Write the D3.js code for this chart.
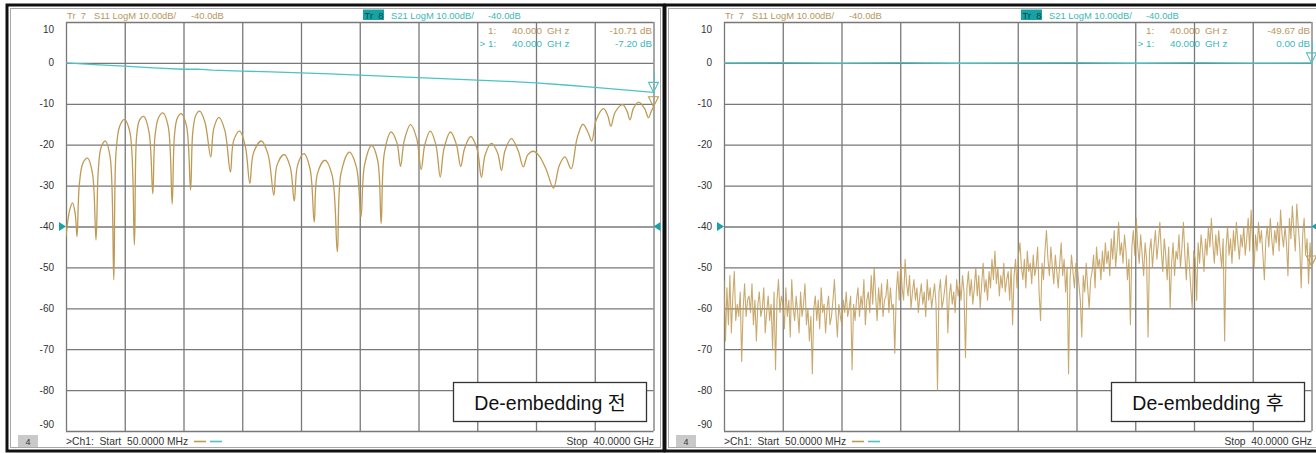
<!DOCTYPE html>
<html>
<head>
<meta charset="utf-8">
<script src="https://cdn.jsdelivr.net/npm/d3@7"></script>
<style>
  body { margin: 0; background: #fff; }
  svg { display: block; font-family: "Liberation Sans", Arial, sans-serif; }
  text { white-space: pre; }
</style>
</head>
<body>
<svg id="chart" width="1316" height="453"></svg>
<script>
var sweepStart = 0.05;   // GHz
var sweepStop = 40;      // GHz
var yTicks = [10, 0, -10, -20, -30, -40, -50, -60, -70, -80, -90];
var refLevel = -40;

// S11 before de-embedding (GHz, dB)
var s11BeforeF = [0.05,0.3,0.5,0.68,0.8,0.95,1.2,1.52,1.85,2.09,2.25,2.45,2.73,3.05,3.3,3.45,3.7,4.02,4.4,4.7,
  4.85,5.05,5.34,5.7,5.95,6.1,6.35,6.64,7.0,7.27,7.42,7.62,7.89,8.25,8.52,8.67,8.88,9.14,9.5,9.89,
  10.1,10.45,10.85,11.23,11.45,11.86,12.25,12.55,12.8,13.34,13.8,14.18,14.4,14.89,15.3,15.57,15.8,16.23,16.65,16.93,
  17.15,17.66,18.15,18.5,18.75,19.32,19.8,20.11,20.35,20.84,21.25,21.48,21.7,22.16,22.55,22.8,23.05,23.48,23.9,24.2,
  24.45,24.82,25.2,25.5,25.75,26.2,26.6,26.89,27.15,27.57,28.0,28.3,28.55,28.98,29.4,29.66,29.9,30.34,30.8,31.14,
  31.45,31.82,32.2,32.7,33.2,33.6,33.98,34.4,34.8,35.2,35.55,35.8,36.1,36.6,36.9,37.1,37.4,37.9,38.2,38.4,
  38.65,39.0,39.4,39.66,39.85,40.0];
var s11BeforeDb = [-42.5,-36,-34.2,-37,-42.5,-30,-24.5,-23.3,-27,-43.3,-26,-20.5,-19.1,-23,-53,-22,-15.5,-13.8,-17,-44.5,
  -18,-14,-13.1,-17,-32,-18,-13.3,-12.2,-15.5,-34.5,-18,-13.5,-12.4,-15.5,-31.1,-17,-12.8,-11.8,-14.5,-23,
  -16,-13.3,-16.5,-26.7,-19,-16.7,-20.5,-29.5,-22,-19.1,-22.5,-32.4,-25,-22.4,-25.5,-33.8,-25,-22.2,-26,-38.9,
  -27,-23.8,-27.5,-46.2,-27,-21.8,-25.5,-37.6,-25,-20.2,-24,-39.3,-22,-16.9,-19.5,-25.3,-19,-15.1,-18.5,-26.1,
  -20,-16.7,-20,-27.9,-21,-16.9,-20,-25.3,-21,-18.0,-21,-28.0,-22.5,-19.7,-22,-26.3,-21.5,-18.5,-21.5,-25.4,
  -22.5,-21.6,-22.6,-26,-30.6,-25,-23,-25.9,-18.5,-15.0,-17,-19.1,-14,-11.2,-13,-15.5,-12,-10.2,-11.8,-13.9,
  -11,-9.6,-11.2,-13.4,-11.8,-10.71];

// S21 before de-embedding
var s21BeforeF = [0.05,2,4,6,8,9,10,12,14,16,18,20,22,24,26,28,30,32,34,36,38,40];
var s21BeforeDb = [0,-0.4,-0.8,-1.2,-1.55,-1.5,-1.75,-2.0,-2.2,-2.45,-2.7,-3.0,-3.3,-3.6,-3.9,-4.2,-4.5,-4.9,-5.4,-6.0,-6.6,-7.2];

// S21 after de-embedding
var s21AfterF = [0.05,4,8,12,16,20,24,28,32,36,40];
var s21AfterDb = [0,0.05,-0.05,0.08,-0.08,0,0.05,-0.08,0.08,-0.05,0];

// S11 after de-embedding, one value per sweep point (0.1 GHz apart)
var s11AfterDb = [
  -53,-68,-55,-64,-52,-66,-57,-51,-63,-59, -62,-56,-73,-60,-54,-62,-58,-57,-61,-54,
  -64,-58,-68,-59,-56,-62,-60,-55,-66,-61, -57,-63,-59,-70,-56,-75,-58,-53,-61,-57,
  -59,-65,-55,-62,-58,-67,-53,-60,-63,-57, -61,-66,-56,-62,-59,-54,-64,-60,-68,-62,
  -76,-60,-57,-63,-58,-65,-55,-61,-59,-66, -60,-57,-64,-62,-58,-53,-61,-67,-59,-62,
  -64,-58,-61,-56,-62,-60,-57,-75,-59,-63, -58,-55,-62,-57,-60,-53,-64,-58,-56,-61,
  -52,-59,-50,-57,-63,-55,-60,-54,-62,-58, -57,-53,-61,-55,-60,-59,-71,-56,-51,-58,
  -49,-55,-58,-48,-54,-57,-52,-60,-56,-53, -58,-55,-61,-57,-54,-59,-56,-62,-53,-58,
  -55,-60,-57,-54,-59,-80,-56,-53,-60,-58, -55,-52,-66,-57,-54,-59,-56,-61,-53,-57,
  -54,-58,-52,-56,-72,-55,-51,-57,-53,-59, -55,-50,-57,-52,-60,-54,-49,-56,-53,-58,
  -51,-55,-48,-53,-46,-54,-50,-57,-52,-55, -49,-56,-53,-51,-58,-50,-64,-52,-48,-55,
  -47,-44,-50,-53,-48,-55,-46,-51,-49,-54, -47,-52,-50,-45,-56,-63,-49,-53,-46,-41,
  -48,-52,-45,-50,-54,-47,-51,-55,-49,-44, -52,-48,-56,-50,-76,-53,-47,-51,-55,-49,
  -50,-54,-58,-67,-52,-56,-49,-55,-60,-53, -51,-47,-55,-45,-50,-48,-53,-46,-51,-44,
  -49,-46,-52,-43,-48,-41,-50,-45,-39,-47, -44,-49,-42,-46,-53,-48,-64,-45,-41,-47,
  -38,-45,-49,-42,-47,-52,-44,-48,-67,-46, -43,-50,-45,-41,-48,-44,-39,-46,-51,-43,
  -47,-53,-45,-60,-49,-44,-52,-46,-48,-42, -50,-45,-39,-47,-53,-44,-49,-55,-60,-46,
  -48,-58,-44,-49,-42,-46,-51,-43,-47,-40, -45,-38,-44,-49,-42,-47,-41,-46,-50,-43,
  -68,-45,-40,-47,-43,-49,-41,-46,-39,-44, -48,-42,-45,-40,-47,-43,-38,-46,-36,-44,
  -50,-42,-46,-39,-44,-41,-47,-53,-43,-40, -45,-38,-43,-47,-41,-44,-39,-46,-36,-42,
  -45,-40,-44,-52,-38,-43,-35,-41,-46,-34.5, -40,-45,-55,-42,-38,-47,-43,-54,-44,-49.67
];
var s11AfterF = s11AfterDb.map(function (d, i) {
  return sweepStart + i * (sweepStop - sweepStart) / (s11AfterDb.length - 1);
});

var markerFreq = 40;
var readBefore = ["-10.71 dB", "-7.20 dB"];
var readAfter = ["-49.67 dB", "0.00 dB"];
var labelBefore = "De-embedding 전";
var labelAfter = "De-embedding 후";
//////////////////////////////////////////////////////////////////////////////

var tan = "#bf9a55";
var tanText = "#b8975a";
var cyan = "#4cc4c6";
var cyanText = "#3bb8ba";
var teal = "#17a3a5";
var gridColor = "#787878";

var svg = d3.select("#chart");

var drawPanel = function (p, idx) {
  var ox = p.ox;
  var plotLeft = 66 + ox, plotRight = 653.5 + ox;
  var plotTop = 22, plotBottom = 431;

  var x = d3.scaleLinear().domain([sweepStart, sweepStop]).range([plotLeft, plotRight]);
  var y = d3.scaleLinear().domain([-90, 10]).range([plotBottom, plotTop]);

  var g = svg.append("g");

  // frames
  g.append("rect").attr("x", 7 + ox).attr("y", 5).attr("width", 657).attr("height", 446)
    .attr("fill", "#fff").attr("stroke", "#111").attr("stroke-width", 3);
  g.append("rect").attr("x", 10.5 + ox).attr("y", 8.5).attr("width", 650).attr("height", 439)
    .attr("fill", "none").attr("stroke", "#a8a8a8").attr("stroke-width", 1);

  // grid
  var xGrid = d3.range(0, 11).map(function (i) { return sweepStart + i * (sweepStop - sweepStart) / 10; });
  g.append("g").attr("transform", "translate(0," + plotBottom + ")")
    .call(d3.axisBottom(x).tickValues(xGrid).tickSize(-(plotBottom - plotTop)).tickFormat(""))
    .call(function (a) {
      a.select(".domain").remove();
      a.selectAll("line").attr("stroke", gridColor).attr("stroke-width", 1.3);
    });
  g.append("g").attr("transform", "translate(" + plotLeft + ",0)")
    .call(d3.axisLeft(y).tickValues(yTicks).tickSize(-(plotRight - plotLeft)).tickFormat(""))
    .call(function (a) {
      a.select(".domain").remove();
      a.selectAll("line").attr("stroke", gridColor).attr("stroke-width", 1.3);
    });

  // y labels (top and bottom ones are pulled inside like on the analyzer)
  g.selectAll("text.ylab").data(yTicks).enter().append("text")
    .attr("class", "ylab")
    .attr("x", plotLeft - 12)
    .attr("y", function (d) { return y(d) + (d === 10 ? 7 : d === -90 ? -7 : 0); })
    .attr("dy", "0.35em")
    .attr("text-anchor", "end")
    .attr("font-size", 10)
    .attr("fill", "#333")
    .text(function (d) { return d; });

  // clip
  var clipId = "clip" + idx;
  svg.append("clipPath").attr("id", clipId).append("rect")
    .attr("x", plotLeft).attr("y", plotTop).attr("width", plotRight - plotLeft).attr("height", plotBottom - plotTop);

  var line = d3.line().x(function (d) { return x(d[0]); }).y(function (d) { return y(d[1]); });

  var s11 = d3.zip(p.s11F, p.s11Db);
  var s21 = d3.zip(p.s21F, p.s21Db);

  g.append("path").datum(s11)
    .attr("clip-path", "url(#" + clipId + ")")
    .attr("d", p.noisy ? line.curve(d3.curveLinear)(s11) : line.curve(d3.curveCatmullRom.alpha(0.5))(s11))
    .attr("fill", "none").attr("stroke", tan)
    .attr("stroke-width", p.noisy ? 1.1 : 1.3)
    .attr("stroke-opacity", p.noisy ? 0.85 : 1)
    .attr("stroke-linejoin", "round");

  g.append("path").datum(s21)
    .attr("clip-path", "url(#" + clipId + ")")
    .attr("d", line.curve(d3.curveLinear)(s21))
    .attr("fill", "none").attr("stroke", cyan).attr("stroke-width", 1.3);

  // end markers (outline triangles, tip on the trace)
  var mx = x(markerFreq);
  [[p.s21Db[p.s21Db.length - 1], cyan], [p.s11Db[p.s11Db.length - 1], tan]].forEach(function (m) {
    var my = y(m[0]);
    g.append("path")
      .attr("d", "M" + (mx - 5) + "," + (my - 10) + "L" + (mx + 5) + "," + (my - 10) + "L" + mx + "," + my + "Z")
      .attr("fill", "none").attr("stroke", m[1]).attr("stroke-width", 1.1);
  });
  g.append("line").attr("x1", mx + 1).attr("x2", mx + 1)
    .attr("y1", y(p.s21Db[p.s21Db.length - 1]) - 21).attr("y2", y(p.s21Db[p.s21Db.length - 1]) - 13)
    .attr("stroke", cyan).attr("stroke-width", 1);

  // reference level triangles
  var ry = y(refLevel);
  g.append("path").attr("d", "M" + (plotLeft - 7) + "," + (ry - 4.5) + "L" + plotLeft + "," + ry + "L" + (plotLeft - 7) + "," + (ry + 4.5) + "Z")
    .attr("fill", teal);
  g.append("path").attr("d", "M" + (plotRight + 7) + "," + (ry - 4.5) + "L" + plotRight + "," + ry + "L" + (plotRight + 7) + "," + (ry + 4.5) + "Z")
    .attr("fill", teal);

  // header
  var hdr = g.append("text").attr("y", 18.5).attr("font-size", 9.4).attr("fill", tanText);
  hdr.append("tspan").attr("x", ox + 67).text("Tr  7");
  hdr.append("tspan").attr("x", ox + 94).text("S11 LogM 10.00dB/");
  hdr.append("tspan").attr("x", ox + 191).text("-40.0dB");

  g.append("rect").attr("x", ox + 363).attr("y", 9.5).attr("width", 21).attr("height", 10.5).attr("fill", teal);
  g.append("text").attr("x", ox + 364.5).attr("y", 18.5).attr("font-size", 9.4).attr("fill", "#0c4546").text("Tr  8");
  var hdr2 = g.append("text").attr("y", 18.5).attr("font-size", 9.4).attr("fill", cyanText);
  hdr2.append("tspan").attr("x", ox + 391).text("S21 LogM 10.00dB/");
  hdr2.append("tspan").attr("x", ox + 488).text("-40.0dB");

  // marker readouts
  [[tanText, "1:", 488, p.read[0], 34], [cyanText, "> 1:", 479.5, p.read[1], 46.5]].forEach(function (r) {
    var t = g.append("text").attr("y", r[4]).attr("font-size", 9.8).attr("fill", r[0]);
    t.append("tspan").attr("x", ox + r[2]).text(r[1]);
    t.append("tspan").attr("x", ox + 512).text("40.000");
    t.append("tspan").attr("x", ox + 547).text("GH z");
    g.append("text").attr("x", ox + 652).attr("y", r[4]).attr("text-anchor", "end")
      .attr("font-size", 9.8).attr("fill", r[0]).text(r[3]);
  });

  // footer
  g.append("rect").attr("x", ox + 18).attr("y", 435).attr("width", 20).attr("height", 12).attr("fill", "#c9c9c9");
  g.append("text").attr("x", ox + 28).attr("y", 444.5).attr("text-anchor", "middle")
    .attr("font-size", 9).attr("fill", "#333").text("4");
  g.append("text").attr("x", ox + 66).attr("y", 445).attr("font-size", 10.3).attr("fill", "#333")
    .text(">Ch1:  Start  50.0000 MHz");
  g.append("line").attr("x1", ox + 194).attr("x2", ox + 206).attr("y1", 441.5).attr("y2", 441.5)
    .attr("stroke", tan).attr("stroke-width", 1.6);
  g.append("line").attr("x1", ox + 210).attr("x2", ox + 222).attr("y1", 441.5).attr("y2", 441.5)
    .attr("stroke", cyan).attr("stroke-width", 1.6);
  g.append("text").attr("x", ox + 654).attr("y", 445).attr("text-anchor", "end")
    .attr("font-size", 10.3).attr("fill", "#333").text("Stop  40.0000 GHz");

  // caption box
  g.append("rect").attr("x", ox + 453.5).attr("y", 382.5).attr("width", 193).attr("height", 39)
    .attr("fill", "#fff").attr("stroke", "#333").attr("stroke-width", 1.3);
  g.append("text").attr("x", ox + 550).attr("y", 409.5).attr("text-anchor", "middle")
    .attr("font-size", 19.5).attr("fill", "#111")
    .attr("font-family", "'Liberation Sans', Arial, 'Noto Sans CJK KR', sans-serif")
    .text(p.label);
};

var panels = [
  { ox: 0, s11F: s11BeforeF, s11Db: s11BeforeDb, s21F: s21BeforeF, s21Db: s21BeforeDb, read: readBefore, label: labelBefore, noisy: false },
  { ox: 658, s11F: s11AfterF, s11Db: s11AfterDb, s21F: s21AfterF, s21Db: s21AfterDb, read: readAfter, label: labelAfter, noisy: true }
];

panels.forEach(drawPanel);
</script>
</body>
</html>
